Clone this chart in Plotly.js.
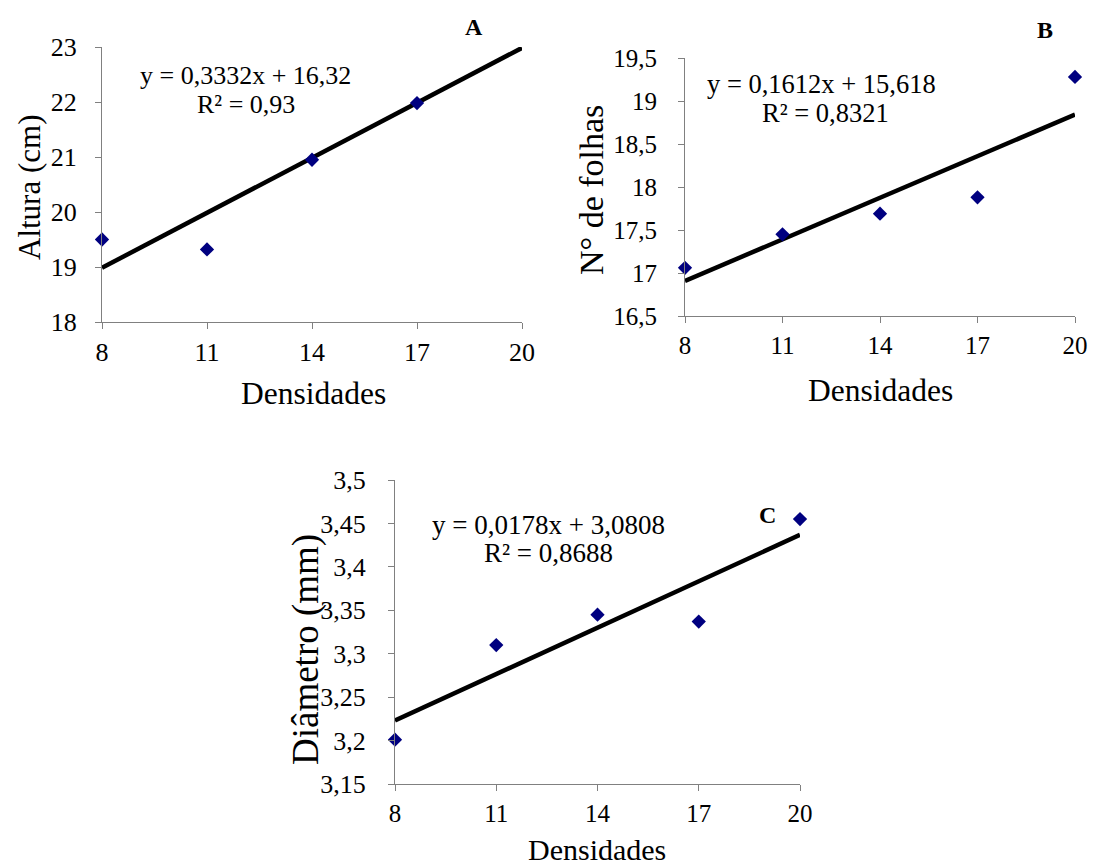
<!DOCTYPE html>
<html>
<head>
<meta charset="utf-8">
<script src="https://cdn.plot.ly/plotly-3.0.1.min.js"></script>
<style>html,body{margin:0;padding:0;background:#fff;}#chart{width:1094px;height:867px;}</style>
</head>
<body>
<div id="chart"></div>
<script>
// ---- data ----
const densidades = [8, 11, 14, 17, 20];
const alturaX = [8, 11, 14, 17];
const altura = [19.5, 19.32, 20.95, 21.98];
const folhas = [17.06, 17.45, 17.69, 17.88, 19.28];
const diametro = [3.201, 3.31, 3.345, 3.337, 3.455];

const fitA = {slope: 0.3332, intercept: 16.32};
const fitB = {slope: 0.1612, intercept: 15.618};
const fitC = {slope: 0.0178, intercept: 3.0808};

const eqA = ["y = 0,3332x + 16,32", "R² = 0,93"];
const eqB = ["y = 0,1612x + 15,618", "R² = 0,8321"];
const eqC = ["y = 0,0178x + 3,0808", "R² = 0,8688"];

const xTicks = [8, 11, 14, 17, 20];
const xTickText = ["8", "11", "14", "17", "20"];
const yTicksA = [18, 19, 20, 21, 22, 23];
const yTickTextA = ["18", "19", "20", "21", "22", "23"];
const yTicksB = [16.5, 17, 17.5, 18, 18.5, 19, 19.5];
const yTickTextB = ["16,5", "17", "17,5", "18", "18,5", "19", "19,5"];
const yTicksC = [3.15, 3.2, 3.25, 3.3, 3.35, 3.4, 3.45, 3.5];
const yTickTextC = ["3,15", "3,2", "3,25", "3,3", "3,35", "3,4", "3,45", "3,5"];

const xTitle = "Densidades";
const yTitles = ["Altura (cm)", "N° de folhas", "Diâmetro (mm)"];
const panelLabels = ["A", "B", "C"];

// ---- helpers ----
const FONT = "Liberation Serif, Times New Roman, serif";
const W = 1094, H = 867;
const lineX = [8, 20];
function fitY(f) { return lineX.map(x => f.slope * x + f.intercept); }

function scatter(x, y, xa, ya) {
  return {x: x, y: y, xaxis: xa, yaxis: ya, type: "scatter", mode: "markers", cliponaxis: false,
    marker: {symbol: "diamond", size: 11, color: "#000080"}, showlegend: false, hoverinfo: "x+y"};
}
function trend(f, xa, ya) {
  return {x: lineX, y: fitY(f), xaxis: xa, yaxis: ya, type: "scatter", mode: "lines", cliponaxis: false,
    line: {color: "#000000", width: 4.5}, showlegend: false, hoverinfo: "skip"};
}

const data = [
  trend(fitA, "x", "y"), scatter(alturaX, altura, "x", "y"),
  trend(fitB, "x2", "y2"), scatter(densidades, folhas, "x2", "y2"),
  trend(fitC, "x3", "y3"), scatter(densidades, diametro, "x3", "y3")
];

function xaxis(domain, anchor, fs) {
  return {domain: domain, anchor: anchor, range: [8, 20], tickvals: xTicks, ticktext: xTickText,
    showgrid: false, zeroline: false, showline: true, linecolor: "#808080", linewidth: 1,
    ticks: "outside", ticklen: 6, tickcolor: "#808080", ticklabelstandoff: 1,
    tickfont: {family: FONT, size: fs, color: "#000"}, automargin: false, fixedrange: true};
}
function yaxis(domain, anchor, range, vals, txt, fs, standoff) {
  return {domain: domain, anchor: anchor, range: range, tickvals: vals, ticktext: txt,
    showgrid: false, zeroline: false, showline: true, linecolor: "#808080", linewidth: 1,
    ticks: "outside", ticklen: 6, tickcolor: "#808080", ticklabelstandoff: standoff,
    tickfont: {family: FONT, size: fs, color: "#000"}, automargin: false, fixedrange: true};
}

function ann(text, x, y, size, opts) {
  opts = opts || {};
  return {text: opts.bold ? "<b>" + text + "</b>" : text, xref: "paper", yref: "paper",
    x: x / W, y: 1 - y / H, xanchor: "center", yanchor: "middle", showarrow: false,
    textangle: opts.angle || 0, font: {family: FONT, size: size, color: "#000"}};
}

const layout = {
  width: W, height: H,
  font: {family: FONT, size: 22, color: "#000"},
  margin: {l: 0, r: 0, t: 0, b: 0},
  paper_bgcolor: "#fff", plot_bgcolor: "rgba(0,0,0,0)",
  xaxis: xaxis([102/W, 522/W], "y", 26),
  yaxis: yaxis([1 - 322/H, 1 - 47/H], "x", [18, 23], yTicksA, yTickTextA, 26, 13),
  xaxis2: xaxis([685/W, 1075/W], "y2", 25),
  yaxis2: yaxis([1 - 316/H, 1 - 58/H], "x2", [16.5, 19.5], yTicksB, yTickTextB, 25, 16),
  xaxis3: xaxis([395/W, 800/W], "y3", 25),
  yaxis3: yaxis([1 - 784/H, 1 - 480/H], "x3", [3.15, 3.5], yTicksC, yTickTextC, 26, 17),
  annotations: [
    // axis titles
    ann(xTitle, 313, 393, 31.5), ann(yTitles[0], 29, 188, 31, {angle: -90}),
    ann(xTitle, 880, 390, 31.5), ann(yTitles[1], 592, 190, 34, {angle: -90}),
    ann(xTitle, 597, 849, 30), ann(yTitles[2], 306, 650, 37, {angle: -90}),
    // equations and panel letters
    ann(eqA[0], 245, 75, 26), ann(eqA[1], 246, 104, 26), ann(panelLabels[0], 474, 27, 24, {bold: true}),
    ann(eqB[0], 821, 84, 26.5), ann(eqB[1], 825, 113, 26.5), ann(panelLabels[1], 1045, 30, 24, {bold: true}),
    ann(eqC[0], 548, 525, 27), ann(eqC[1], 548, 553, 27), ann(panelLabels[2], 767, 515, 24, {bold: true})
  ]
};

Plotly.newPlot("chart", data, layout, {displayModeBar: false, staticPlot: true});
</script>
</body>
</html>
